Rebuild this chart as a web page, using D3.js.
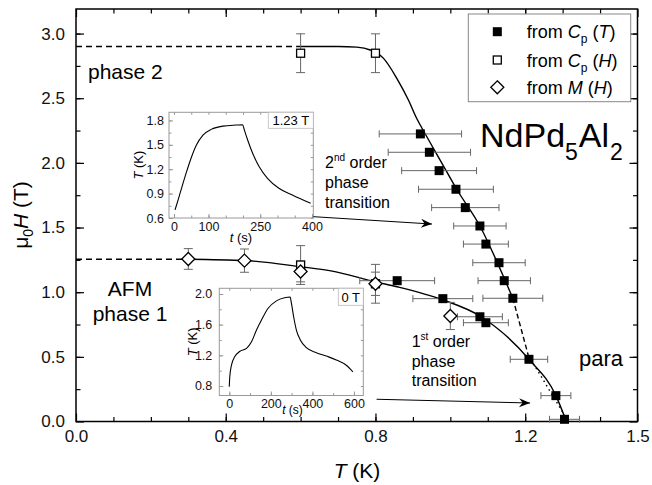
<!DOCTYPE html>
<html><head><meta charset="utf-8">
<script src="https://cdn.jsdelivr.net/npm/d3@7"></script>
<style>
body{margin:0;background:#fff}
svg{display:block;font-family:"Liberation Sans",Arial,sans-serif}
</style></head><body>
<script>
// Data: from Cp(T) (filled squares, horizontal error)
var cpT_T   = [0.92, 0.944, 0.97, 1.015, 1.04, 1.079, 1.095, 1.13, 1.144, 1.167, 0.858, 0.98, 1.079, 1.095, 1.21, 1.282, 1.305];
var cpT_H   = [2.224, 2.082, 1.94, 1.796, 1.654, 1.512, 1.372, 1.228, 1.089, 0.953, 1.089, 0.95, 0.81, 0.764, 0.481, 0.2, 0.017];
var cpT_err = [0.11, 0.11, 0.10, 0.10, 0.09, 0.07, 0.06, 0.07, 0.07, 0.08, 0.10, 0.08, 0.06, 0.06, 0.05, 0.04, 0.04];

// from Cp(H) (open squares, vertical error)
var cpH_T   = [0.6, 0.8, 0.6, 0.8];
var cpH_H   = [2.848, 2.848, 1.21, 1.065];
var cpH_err = [0.15, 0.15, 0.15, 0.15];

// from M(H) (diamonds, vertical error)
var mH_T   = [0.3, 0.45, 0.6, 0.8, 1.0];
var mH_H   = [1.257, 1.244, 1.16, 1.065, 0.816];
var mH_err = [0.08, 0.09, 0.08, 0.09, 0.105];

// phase boundaries
var upperDashT = [0, 0.59],  upperDashH = [2.9, 2.9];
var upperT = [0.59, 0.70, 0.75, 0.786, 0.821, 0.857, 0.888, 0.91, 0.932, 0.975, 1.017, 1.079, 1.146, 1.167];
var upperH = [2.90, 2.90, 2.895, 2.873, 2.81, 2.654, 2.486, 2.345, 2.229, 2.01, 1.796, 1.512, 1.094, 0.953];
var upperDash2T = [1.167, 1.208], upperDash2H = [0.953, 0.514];
var upperDotT = [1.208, 1.311],   upperDotH = [0.514, 0.02];
var lowerDashT = [0, 0.3], lowerDashH = [1.255, 1.255];
var lowerT = [0.3, 0.45, 0.6, 0.681, 0.8, 0.861, 0.981, 1.079, 1.21, 1.282, 1.31];
var lowerH = [1.255, 1.245, 1.197, 1.165, 1.08, 1.04, 0.94, 0.816, 0.481, 0.2, 0.0];

// inset 1.23 T : T(t)
var in1_t = [3, 12, 22, 36.5, 51, 65, 84, 108, 142, 180, 199, 204, 213.5, 228, 247, 271, 304, 343, 396];
var in1_T = [0.70, 0.824, 0.968, 1.17, 1.354, 1.498, 1.62, 1.69, 1.73, 1.743, 1.747, 1.68, 1.56, 1.396, 1.23, 1.088, 0.966, 0.883, 0.78];
// inset 0 T : T(t)
var in2_t = [0, 2.4, 10.6, 26, 50, 83, 107, 131, 155, 186, 227, 266, 293, 299, 310, 323, 342, 371, 419, 467, 515, 563, 595];
var in2_T = [0.791, 0.92, 1.073, 1.18, 1.25, 1.29, 1.376, 1.53, 1.66, 1.81, 1.91, 1.95, 1.96, 1.88, 1.70, 1.53, 1.40, 1.30, 1.235, 1.19, 1.14, 1.07, 0.985];

var xTicks = [0, 0.4, 0.8, 1.2, 1.5];
var yTicks = [0, 0.5, 1.0, 1.5, 2.0, 2.5, 3.0];

var svg = d3.select("body").append("svg").attr("width", 652).attr("height", 485);

var x = d3.scaleLinear().domain([0, 1.5]).range([76, 637.5]);
var y = d3.scaleLinear().domain([0, 3.19]).range([421.5, 9]);

function zip(a, b) { return a.map(function(d, i) { return [d, b[i]]; }); }

// main axes
function styleAxis(g) {
  g.select(".domain").remove();
  g.selectAll("line").attr("stroke", "#000").attr("stroke-width", 1.2);
  g.selectAll("text").attr("font-size", 17).attr("fill", "#111").attr("font-family", null);
}
var xMinor = d3.range(1, 15).map(function(i) { return i / 10; });
var yMinor = d3.range(1, 13).map(function(i) { return i / 4; });

svg.append("g").attr("transform", "translate(0,421.5)")
  .call(d3.axisBottom(x).tickValues(xTicks).tickSize(-8).tickPadding(8).tickFormat(d3.format(".1f"))).call(styleAxis);
svg.append("g").attr("transform", "translate(0,421.5)")
  .call(d3.axisBottom(x).tickValues(xMinor).tickSize(-4.5).tickFormat("")).call(styleAxis);
svg.append("g").attr("transform", "translate(0,9)")
  .call(d3.axisTop(x).tickValues(xTicks).tickSize(-8).tickFormat("")).call(styleAxis);
svg.append("g").attr("transform", "translate(0,9)")
  .call(d3.axisTop(x).tickValues(xMinor).tickSize(-4.5).tickFormat("")).call(styleAxis);
svg.append("g").attr("transform", "translate(76,0)")
  .call(d3.axisLeft(y).tickValues(yTicks).tickSize(-8).tickPadding(11).tickFormat(d3.format(".1f"))).call(styleAxis);
svg.append("g").attr("transform", "translate(76,0)")
  .call(d3.axisLeft(y).tickValues(yMinor).tickSize(-4.5).tickFormat("")).call(styleAxis);
svg.append("g").attr("transform", "translate(637.5,0)")
  .call(d3.axisRight(y).tickValues(yTicks).tickSize(-8).tickFormat("")).call(styleAxis);
svg.append("g").attr("transform", "translate(637.5,0)")
  .call(d3.axisRight(y).tickValues(yMinor).tickSize(-4.5).tickFormat("")).call(styleAxis);

svg.append("rect").attr("x", 76).attr("y", 9).attr("width", 561.5).attr("height", 412.5)
  .attr("fill", "none").attr("stroke", "#000").attr("stroke-width", 1.5);

// axis titles
var xt = svg.append("text").attr("x", 357).attr("y", 478).attr("text-anchor", "middle").attr("font-size", 21);
xt.append("tspan").attr("font-style", "italic").text("T");
xt.append("tspan").text(" (K)");
var yt = svg.append("text").attr("transform", "translate(28,215) rotate(-90)").attr("text-anchor", "middle").attr("font-size", 21);
yt.append("tspan").text("\u03bc");
yt.append("tspan").attr("font-size", 14).attr("dy", 5).text("0");
yt.append("tspan").attr("font-style", "italic").attr("dy", -5).text("H");
yt.append("tspan").text(" (T)");

// lines
var line = d3.line().x(function(d) { return x(d[0]); }).y(function(d) { return y(d[1]); });
var curve = d3.line().curve(d3.curveMonotoneX).x(function(d) { return x(d[0]); }).y(function(d) { return y(d[1]); });
function path(gen, pts, dash) {
  svg.append("path").attr("d", gen(pts)).attr("fill", "none").attr("stroke", "#000")
    .attr("stroke-width", 1.4).attr("stroke-dasharray", dash || null);
}
path(line, zip(upperDashT, upperDashH), "6,4");
path(line, zip(lowerDashT, lowerDashH), "6,4");
path(curve, zip(upperT, upperH));
path(curve, zip(lowerT, lowerH));
path(line, zip(upperDash2T, upperDash2H), "5,3");
path(line, zip(upperDotT, upperDotH), "1.5,3.5");

// error bars
var eg = svg.append("g").attr("stroke", "#666").attr("stroke-width", 1);
cpT_T.forEach(function(t, i) {
  var yy = y(cpT_H[i]), x1 = x(t - cpT_err[i]), x2 = x(t + cpT_err[i]);
  eg.append("line").attr("x1", x1).attr("x2", x2).attr("y1", yy).attr("y2", yy);
  eg.append("line").attr("x1", x1).attr("x2", x1).attr("y1", yy - 3.5).attr("y2", yy + 3.5);
  eg.append("line").attr("x1", x2).attr("x2", x2).attr("y1", yy - 3.5).attr("y2", yy + 3.5);
});
function vbars(T, Hs, E) {
  T.forEach(function(t, i) {
    var xx = x(t), y1 = y(Hs[i] - E[i]), y2 = y(Hs[i] + E[i]);
    eg.append("line").attr("x1", xx).attr("x2", xx).attr("y1", y1).attr("y2", y2);
    eg.append("line").attr("x1", xx - 4.5).attr("x2", xx + 4.5).attr("y1", y1).attr("y2", y1);
    eg.append("line").attr("x1", xx - 4.5).attr("x2", xx + 4.5).attr("y1", y2).attr("y2", y2);
  });
}
vbars(cpH_T, cpH_H, cpH_err);
vbars(mH_T, mH_H, mH_err);

// markers
svg.append("g").selectAll("rect").data(zip(cpT_T, cpT_H)).enter().append("rect")
  .attr("x", function(d) { return x(d[0]) - 4.5; }).attr("y", function(d) { return y(d[1]) - 4.5; })
  .attr("width", 9).attr("height", 9).attr("fill", "#000");
svg.append("g").selectAll("rect").data(zip(cpH_T, cpH_H)).enter().append("rect")
  .attr("x", function(d) { return x(d[0]) - 4; }).attr("y", function(d) { return y(d[1]) - 4; })
  .attr("width", 8).attr("height", 8).attr("fill", "#fff").attr("stroke", "#000").attr("stroke-width", 1.3);
var diamond = "M0,-6.5L6.5,0L0,6.5L-6.5,0Z";
svg.append("g").selectAll("path").data(zip(mH_T, mH_H)).enter().append("path")
  .attr("d", diamond).attr("transform", function(d) { return "translate(" + x(d[0]) + "," + y(d[1]) + ")"; })
  .attr("fill", "#fff").attr("stroke", "#000").attr("stroke-width", 1.3);

// insets
function inset(o) {
  var g = svg.append("g");
  var ix = d3.scaleLinear().domain(o.xd).range([o.l, o.r]);
  var iy = d3.scaleLinear().domain(o.yd).range([o.b, o.t]);
  g.append("rect").attr("x", o.l).attr("y", o.t).attr("width", o.r - o.l).attr("height", o.b - o.t)
    .attr("fill", "#fff").attr("stroke", "none");
  function st(a) {
    a.select(".domain").remove();
    a.selectAll("line").attr("stroke", "#999").attr("stroke-width", 1);
    a.selectAll("text").attr("font-size", 12.5).attr("fill", "#111").attr("font-family", null);
  }
  g.append("g").attr("transform", "translate(0," + o.b + ")")
    .call(d3.axisBottom(ix).tickValues(o.xMaj).tickSize(-4).tickPadding(4).tickFormat(d3.format("d"))).call(st);
  g.append("g").attr("transform", "translate(0," + o.b + ")")
    .call(d3.axisBottom(ix).tickValues(o.xMin).tickSize(-2.5).tickFormat("")).call(st);
  g.append("g").attr("transform", "translate(0," + o.t + ")")
    .call(d3.axisTop(ix).tickValues(o.xMin).tickSize(-2.5).tickFormat("")).call(st);
  g.append("g").attr("transform", "translate(" + o.l + ",0)")
    .call(d3.axisLeft(iy).tickValues(o.yMaj).tickSize(-4).tickPadding(o.yPad).tickFormat(d3.format(".1f"))).call(st);
  g.append("g").attr("transform", "translate(" + o.l + ",0)")
    .call(d3.axisLeft(iy).tickValues(o.yMin).tickSize(-2.5).tickFormat("")).call(st);
  g.append("g").attr("transform", "translate(" + o.r + ",0)")
    .call(d3.axisRight(iy).tickValues(o.yMin).tickSize(-2.5).tickFormat("")).call(st);
  g.append("rect").attr("x", o.l).attr("y", o.t).attr("width", o.r - o.l).attr("height", o.b - o.t)
    .attr("fill", "none").attr("stroke", "#999").attr("stroke-width", 1);
  g.append("path").attr("d", d3.line().curve(d3.curveMonotoneX)
      .x(function(d) { return ix(d[0]); }).y(function(d) { return iy(d[1]); })(zip(o.tt, o.TT)))
    .attr("fill", "none").attr("stroke", "#000").attr("stroke-width", 1.1);
  // tag
  g.append("rect").attr("x", o.tag[0]).attr("y", o.t).attr("width", o.r - o.tag[0]).attr("height", o.tag[1])
    .attr("fill", "#fff").attr("stroke", "#bbb").attr("stroke-width", 0.8);
  g.append("text").attr("x", (o.tag[0] + o.r) / 2).attr("y", o.t + o.tag[1] - 3.5).attr("text-anchor", "middle")
    .attr("font-size", 13).text(o.label);
  // titles
  var ty = g.append("text").attr("transform", "translate(" + o.ytx + "," + (o.t + o.b) / 2 + ") rotate(-90)")
    .attr("text-anchor", "middle").attr("font-size", 13);
  ty.append("tspan").attr("font-style", "italic").text("T");
  ty.append("tspan").text(" (K)");
  var tx = g.append("text").attr("x", o.xtt[0]).attr("y", o.xtt[1]).attr("text-anchor", "middle").attr("font-size", o.xtt[2]);
  tx.append("tspan").attr("font-style", "italic").text("t");
  tx.append("tspan").text(" (s)");
}
inset({l: 169, r: 313.3, t: 112.3, b: 218, xd: [-14.5, 403.8], yd: [0.6, 1.9],
  xMaj: [0, 100, 250, 400], xMin: d3.range(0, 401, 50), yMaj: [0.6, 0.9, 1.2, 1.5, 1.8],
  yMin: d3.range(0.6, 1.91, 0.15), yPad: 5, tt: in1_t, TT: in1_T, tag: [268.3, 16], label: "1.23 T",
  ytx: 143, xtt: [241, 242, 13]});
inset({l: 219.3, r: 363.3, t: 288.3, b: 395.5, xd: [-48, 645], yd: [0.676, 2.074],
  xMaj: [0, 200, 400, 600], xMin: d3.range(0, 601, 100), yMaj: [0.8, 1.2, 1.6, 2.0],
  yMin: d3.range(0.8, 2.01, 0.2), yPad: 7, tt: in2_t, TT: in2_T, tag: [338.3, 17], label: "0 T",
  ytx: 197, xtt: [292.5, 414, 12]});

// arrows
svg.append("defs").append("marker").attr("id", "ah").attr("viewBox", "-12 -6 14 12")
  .attr("refX", 0).attr("refY", 0).attr("markerWidth", 14).attr("markerHeight", 12)
  .attr("markerUnits", "userSpaceOnUse").attr("orient", "auto")
  .append("path").attr("d", "M0,0L-11,-4.5L-7.5,0L-11,4.5Z").attr("fill", "#000");
var arrows = [[[0.634, 1.584], [0.951, 1.527]], [[0.803, 0.172], [1.213, 0.143]]];
arrows.forEach(function(a) {
  svg.append("line").attr("x1", x(a[0][0])).attr("y1", y(a[0][1])).attr("x2", x(a[1][0])).attr("y2", y(a[1][1]))
    .attr("stroke", "#000").attr("stroke-width", 1).attr("marker-end", "url(#ah)");
});

// texts
function txt(xp, yp, s, size, anchor) {
  return svg.append("text").attr("x", xp).attr("y", yp).attr("font-size", size)
    .attr("text-anchor", anchor || "start").text(s);
}
txt(88, 79, "phase 2", 21);
txt(130, 296, "AFM", 21, "middle");
txt(130, 321, "phase 1", 21, "middle");
txt(579, 366, "para", 22);
var nd = svg.append("text").attr("x", 480).attr("y", 147).attr("font-size", 34);
nd.append("tspan").text("NdPd");
nd.append("tspan").attr("font-size", 23).attr("dy", 13).text("5");
nd.append("tspan").attr("dy", -13).attr("dx", 1).text("Al");
nd.append("tspan").attr("font-size", 23).attr("dy", 13).attr("dx", 1).text("2");

function orderLabel(xp, yp, num, sup) {
  var t = svg.append("text").attr("x", xp).attr("y", yp).attr("font-size", 16);
  t.append("tspan").text(num);
  t.append("tspan").attr("font-size", 10).attr("dy", -7).text(sup);
  t.append("tspan").attr("dy", 7).text(" order");
  txt(xp, yp + 19.7, "phase", 16);
  txt(xp, yp + 39.4, "transition", 16);
}
orderLabel(325, 168.3, "2", "nd");
orderLabel(411.7, 347, "1", "st");

// legend
var lg = svg.append("g");
lg.append("rect").attr("x", 468.3).attr("y", 14).attr("width", 162.4).attr("height", 87.7)
  .attr("fill", "#fff").attr("stroke", "#888").attr("stroke-width", 1);
var rows = [31.7, 60, 87.3];
lg.append("rect").attr("x", 497.3 - 4.5).attr("y", rows[0] - 4.5).attr("width", 9).attr("height", 9).attr("fill", "#000");
lg.append("rect").attr("x", 497.3 - 4).attr("y", rows[1] - 4).attr("width", 8).attr("height", 8)
  .attr("fill", "#fff").attr("stroke", "#000").attr("stroke-width", 1.3);
lg.append("path").attr("d", diamond).attr("transform", "translate(497.3," + rows[2] + ")")
  .attr("fill", "#fff").attr("stroke", "#000").attr("stroke-width", 1.3);
function legText(yy, sym, sub, v) {
  var t = lg.append("text").attr("x", 526.7).attr("y", yy + 6.5).attr("font-size", 18);
  t.append("tspan").text("from ");
  t.append("tspan").attr("font-style", "italic").text(sym);
  if (sub) {
    t.append("tspan").attr("font-size", 12).attr("dy", 5).text(sub);
    t.append("tspan").attr("dy", -5).text(" (");
  } else {
    t.append("tspan").text(" (");
  }
  t.append("tspan").attr("font-style", "italic").text(v);
  t.append("tspan").text(")");
}
legText(rows[0], "C", "p", "T");
legText(rows[1], "C", "p", "H");
legText(rows[2], "M", null, "H");
</script>
</body></html>
